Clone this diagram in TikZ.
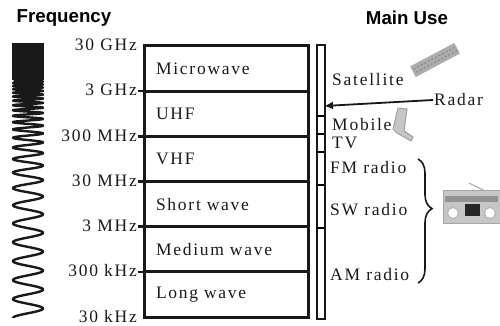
\documentclass[tikz,border=0pt]{standalone}
\usepackage{fontspec}
\setmainfont{Liberation Serif}[LetterSpace=10]
\newfontfamily\headfont{Liberation Sans}
\usetikzlibrary{positioning,arrows.meta,decorations.pathreplacing}

\begin{document}
\begin{tikzpicture}[x=1pt,y=-1pt,font=\fontsize{17.5}{19}\selectfont,
	band/.style={draw,line width=3pt,rectangle,outer sep=0pt,inner xsep=12pt,inner ysep=0pt,
		minimum height=45.17pt,text width=140pt,align=left},
	freq/.style={anchor=east,inner sep=1pt,xshift=-6pt,yshift=1pt},
	use/.style={anchor=west,inner sep=1pt},
	head/.style={font=\fontsize{18.7}{20}\selectfont\headfont\bfseries}]
	\useasboundingbox (0,0) rectangle (500,326);
	
	\node[head] (F) at (64,18) {Frequency};
	\node[head] (U) at (407,18) {Main Use};
	
	% the wave gets denser towards the top
	\fill[black!90] (12,43) rectangle (44,80);
	\draw[line width=2.4pt,black!90,line join=round] plot[domain=0:0.865,samples=2000,variable=\t]
		({28-15*cos(360*mod(14.5*\t+28.8*\t*\t*\t*\t*\t*\t*\t,1))},{318-275*\t});
	
	\begin{scope}[every node/.style={band},black!90]
	\node[anchor=north west] (mw) at (144,46) {Microwave};
	\node[below=0pt of mw] (uhf) {UHF};
	\node[below=0pt of uhf] (vhf) {VHF};
	\node[below=0pt of vhf] (sw) {Short wave};
	\node[below=0pt of sw] (mwv) {Medium wave};
	\node[below=0pt of mwv] (lw) {Long wave};
	\end{scope}
	
	\begin{scope}[every node/.style={freq},black!90]
	\node at (mw.north west) {30 GHz};
	\node at (uhf.north west) {3 GHz};
	\node at (vhf.north west) {300 MHz};
	\node at (sw.north west) {30 MHz};
	\node at (mwv.north west) {3 MHz};
	\node at (lw.north west) {300 kHz};
	\node at (lw.south west) {30 kHz};
	\end{scope}
	\foreach \b in {uhf,vhf,sw,mwv,lw}
		\draw[line width=2.6pt,black!90] (\b.north west) -- ++(-6,0);
	
	% use bar
	\node[draw,line width=2pt,black!90,anchor=north west,inner sep=0pt,
		minimum width=8pt,minimum height=274pt] (bar) at (316,44) {};
	\draw[line width=1.2pt] (316,116) -- (324,116);
	\draw[line width=1.2pt] (316,134) -- (324,134);
	\draw[line width=2.4pt] (316,152) -- (324,152);
	\draw[line width=2.4pt] (316,185) -- (324,185);
	\draw[line width=1.2pt] (316,228) -- (324,228);
	
	\begin{scope}[every node/.style={use},black!90]
	\node (S) at (331,80) {Satellite};
	\node (R) at (433,100) {Radar};
	\node (M) at (331,125) {Mobile};
	\node (T) at (331,143) {TV};
	\node (FM) at (329,168) {FM radio};
	\node (SW) at (329,210) {SW radio};
	\node (AM) at (329,275) {AM radio};
	\end{scope}
	
	\coordinate (hit) at (324,106);
	\draw[-{Latex[length=9pt,width=8pt]},line width=1.8pt,black!90] (R.west) -- (hit);
	
	\coordinate (bt) at (418,159);
	\coordinate (bb) at (418,283);
	\draw[decorate,decoration={brace,amplitude=14pt,aspect=0.4},line width=1.6pt,black!90] (bt) -- (bb);
	
	% satellite
	\fill[gray!65,rotate around={28:(435,60)}] (410,54) rectangle (460,66);
	\draw[gray!90,line width=1.2pt,dash pattern=on 2pt off 2pt,rotate around={28:(435,60)}] (412,58) -- (458,58);
	\draw[gray!90,line width=1.2pt,dash pattern=on 2pt off 2pt,rotate around={28:(435,60)}] (413,62) -- (459,62);
	
	% phone
	\draw[fill=gray!45,draw=gray!75,line width=1pt] (398,108) -- (407,109) -- (404,131)
		-- (413,137) -- (411,141) -- (397,133) -- (393,129) -- cycle;
	
	% radio
	\draw[gray!70,line width=1pt] (469,183) -- (485,191);
	\draw[fill=gray!45,draw=gray!70] (443,190) rectangle (500,223);
	\fill[gray!85] (445,196) rectangle (498,202);
	\fill[black!85] (465,204) rectangle (480,216);
	\draw[fill=white,draw=gray!60,line width=1pt] (453,213) circle (5.5pt);
	\draw[fill=white,draw=gray!60,line width=1pt] (490,213) circle (5.5pt);
\end{tikzpicture}
\end{document}
